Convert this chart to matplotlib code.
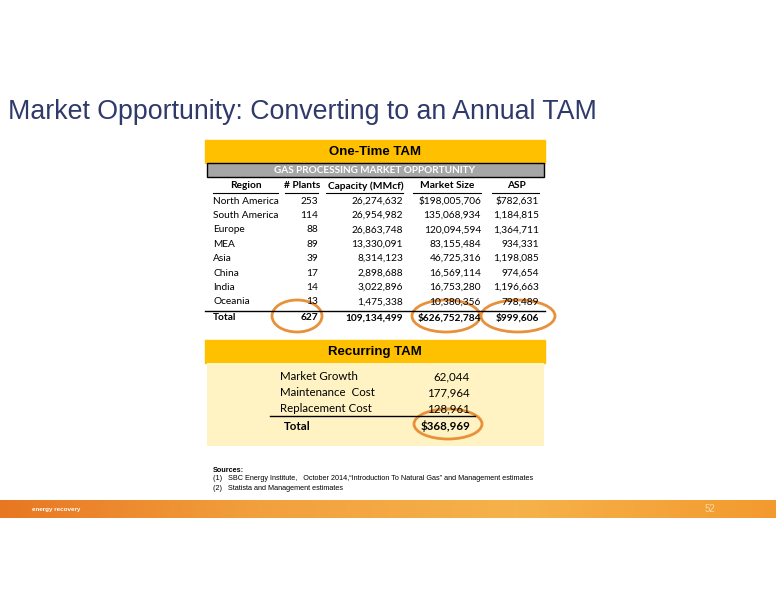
import numpy as np
import matplotlib.pyplot as plt
from matplotlib.patches import Rectangle, Ellipse
from matplotlib.colors import LinearSegmentedColormap

regions = ["North America", "South America", "Europe", "MEA", "Asia", "China", "India", "Oceania"]
plants = [253, 114, 88, 89, 39, 17, 14, 13]
capacity = [26274632, 26954982, 26863748, 13330091, 8314123, 2898688, 3022896, 1475338]
market = [198005706, 135068934, 120094594, 83155484, 46725316, 16569114, 16753280, 10380356]
asp = [782631, 1184815, 1364711, 934331, 1198085, 974654, 1196663, 798489]
total_row = ["Total", "627", "109,134,499", "$626,752,784", "$999,606"]

rec_labels = ["Market Growth", "Maintenance  Cost", "Replacement Cost"]
rec_values = [62044, 177964, 128961]
rec_total = "$368,969"

YEL = "#FFC000"
ORG = "#E8913A"
TF = "Lato"
FS = 7.3

fig = plt.figure(figsize=(7.76, 6.0), dpi=100)
ax = fig.add_axes([0, 0, 1, 1])

ax.text(8, 112, "Market Opportunity: Converting to an Annual TAM", fontsize=19.3,
        color="#2F3A6B", family="Liberation Sans", va="center")

# One-time TAM block
ax.add_patch(Rectangle((205, 140), 340, 23, color=YEL))
ax.text(375, 152, "One-Time TAM", ha="center", va="center", fontsize=9.5,
        weight="bold", family="Liberation Sans")
ax.add_patch(Rectangle((207, 163), 337, 14, facecolor="#A6A6A6", edgecolor="black", lw=1))
ax.text(375, 170.5, "GAS PROCESSING MARKET OPPORTUNITY", ha="center", va="center",
        fontsize=7.2, weight="bold", color="white", family=TF)

heads = ["Region", "# Plants", "Capacity (MMcf)", "Market Size", "ASP"]
hx = [246, 302, 366, 447, 516]
ul = [(213, 278), (285, 318), (326, 403), (413, 481), (492, 539)]
for h, x, (a, b) in zip(heads, hx, ul):
    ax.text(x, 186, h, ha="center", va="center", fontsize=FS, weight="bold", family=TF)
    ax.plot([a, b], [193, 193], color="black", lw=0.8)

rx = [318, 403, 481, 539]
for i, r in enumerate(regions):
    y = 201 + i * 14.4
    vals = [f"{plants[i]}", f"{capacity[i]:,}",
            (f"${market[i]:,}" if i == 0 else f"{market[i]:,}"),
            (f"${asp[i]:,}" if i == 0 else f"{asp[i]:,}")]
    ax.text(213, y, r, va="center", fontsize=FS, family=TF)
    for x, v in zip(rx, vals):
        ax.text(x, y, v, ha="right", va="center", fontsize=FS, family=TF)
ax.plot([205, 545], [310.5, 310.5], color="black", lw=1)
ax.text(213, 318, total_row[0], va="center", fontsize=FS, weight="bold", family=TF)
for x, v in zip(rx, total_row[1:]):
    ax.text(x, 318, v, ha="right", va="center", fontsize=FS, weight="bold", family=TF)

for cx, w in [(297, 50), (446, 68), (518, 74)]:
    ax.add_patch(Ellipse((cx, 316), w, 32, fill=False, edgecolor=ORG, lw=2))

# Recurring TAM block
ax.add_patch(Rectangle((205, 340), 340, 23, color=YEL))
ax.text(375, 352, "Recurring TAM", ha="center", va="center", fontsize=9.5,
        weight="bold", family="Liberation Sans")
ax.add_patch(Rectangle((207, 363), 337, 83, facecolor="#FFF3C4", edgecolor="none"))
for i, (l, v) in enumerate(zip(rec_labels, rec_values)):
    y = 377 + i * 16
    ax.text(280, y, l, va="center", fontsize=8.3, family=TF)
    ax.text(470, y, f"{v:,}", ha="right", va="center", fontsize=8.3, family=TF)
ax.plot([270, 475], [416, 416], color="black", lw=1)
ax.text(284, 426, "Total", va="center", fontsize=8.3, weight="bold", family=TF)
ax.text(470, 426, rec_total, ha="right", va="center", fontsize=8.3, weight="bold", family=TF)
ax.add_patch(Ellipse((448, 424), 68, 30, fill=False, edgecolor=ORG, lw=2))

# sources
ax.text(213, 470, "Sources:", fontsize=5.2, weight="bold", family="Liberation Sans", va="center")
ax.text(213, 479, "(1)   SBC Energy Institute,   October 2014,\u201cIntroduction To Natural Gas\u201d and Management estimates",
        fontsize=5.2, family="Liberation Sans", va="center")
ax.text(213, 488, "(2)   Statista and Management estimates", fontsize=5.2, family="Liberation Sans", va="center")

# footer bar
grad = np.linspace(0, 1, 256).reshape(1, -1)
cm = LinearSegmentedColormap.from_list("f", ["#E87722", "#F2A03D", "#F6B24A", "#F39A2E"])
ax.imshow(grad, extent=(0, 776, 518, 500), aspect="auto", cmap=cm, zorder=0)
ax.text(32, 509, "energy recovery", fontsize=4.5, color="white", va="center", family="Liberation Sans", weight="bold")
ax.text(705, 509, "52", fontsize=7, color="#F8D9A8", va="center", family="Liberation Sans")
ax.set_xlim(0, 776)
ax.set_ylim(600, 0)
ax.axis("off")

fig.savefig("out.png", dpi=100)
